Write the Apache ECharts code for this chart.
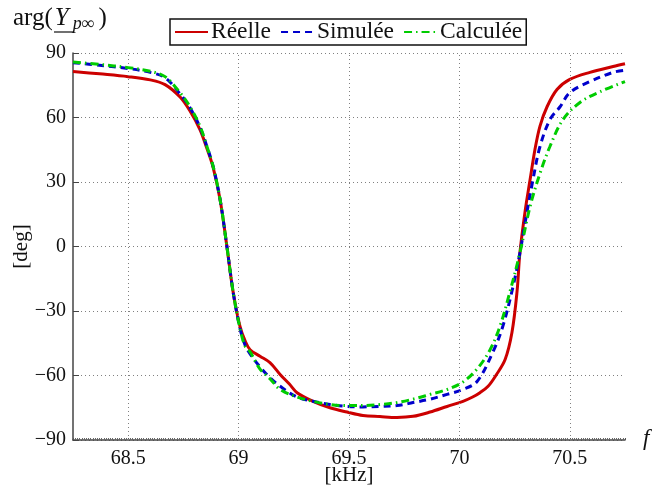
<!DOCTYPE html>
<html>
<head>
<meta charset="utf-8">
<script src="https://cdn.jsdelivr.net/npm/echarts@6/dist/echarts.min.js"></script>
<style>
html,body{margin:0;padding:0;background:#fff;}
#c{width:656px;height:493px;}
</style>
</head>
<body>
<div id="c"></div>
<script>
// ---- data ----
const seriesNames = ['Réelle', 'Simulée', 'Calculée'];
const xTickValues = [68.5, 69, 69.5, 70, 70.5];
const yTickValues = [-90, -60, -30, 0, 30, 60, 90];

const redF = [68.25,68.37,68.5,68.6,68.667,68.735,68.78,68.825,68.855,68.884,68.916,68.947,68.975,69.006,69.03,69.052,69.097,69.142,69.188,69.23,69.265,69.337,69.414,69.491,69.563,69.64,69.717,69.79,69.867,69.944,70.016,70.06,70.093,70.13,70.165,70.207,70.238,70.261,70.274,70.297,70.32,70.342,70.365,70.397,70.442,70.5,70.591,70.696,70.75];
const redDeg = [81.4,80.3,79,77.5,75.3,69.5,63,54.4,46,37,21.9,0,-21,-37,-44,-48,-51,-54,-59.5,-64,-68,-72,-75,-77,-78.6,-79.1,-79.5,-79,-77,-74.4,-72,-70,-68,-65,-60,-52.6,-40,-21,-3,16,31,45,56,65,73,77.7,81,83.7,85];

const blueF = [68.25,68.37,68.5,68.6,68.667,68.735,68.78,68.825,68.855,68.884,68.916,68.947,68.975,69.006,69.03,69.052,69.097,69.142,69.188,69.265,69.337,69.414,69.491,69.563,69.64,69.717,69.79,69.867,69.944,70.016,70.08,70.152,70.197,70.243,70.274,70.306,70.333,70.365,70.41,70.456,70.5,70.591,70.696,70.75];
const blueDeg = [85.5,84.3,82.8,81,78.5,71,64.5,55.5,47,37.5,22,0,-21,-38,-46,-50,-56,-61,-65,-70,-72,-73.5,-74.4,-74.6,-74.4,-74,-72.6,-71,-68.8,-66.5,-62.8,-49,-37,-18.6,-3,16,31,46.5,59,65,71.6,76.7,81,82];

const greenF = [68.25,68.37,68.5,68.6,68.667,68.735,68.78,68.825,68.855,68.884,68.916,68.947,68.975,69.006,69.03,69.052,69.097,69.142,69.188,69.265,69.337,69.414,69.491,69.563,69.64,69.717,69.79,69.867,69.944,70.016,70.08,70.139,70.184,70.229,70.274,70.32,70.365,70.41,70.469,70.546,70.637,70.75];
const greenDeg = [85.8,84.7,83.2,81.5,79,71.5,65,56,47,37.5,22,0,-21,-38,-46.5,-49,-57,-61.5,-66.5,-70,-72,-73.5,-74,-74,-73.5,-72.6,-71,-68.8,-66.5,-63,-57,-48,-37,-21,-3,18.6,34,46.5,59,67,72,76.7];

function pairs(xs, ys) { return xs.map((x, i) => [x, ys[i]]); }

const serif = '"Liberation Serif", "DejaVu Serif", serif';
const dotted = { color: '#808080', width: 1, type: [1, 3] };

const chart = echarts.init(document.getElementById('c'), null, { renderer: 'canvas' });
chart.setOption({
  animation: false,
  backgroundColor: '#fff',
  grid: { left: 73, right: 31, top: 53, bottom: 53, outerBoundsMode: 'none', containLabel: false },
  legend: {
    data: seriesNames,
    left: 170, top: 19,
    padding: [1, 4, 1, 4],
    itemGap: 9,
    itemWidth: 33, itemHeight: 14,
    borderColor: '#111', borderWidth: 1.5,
    backgroundColor: '#fff',
    itemStyle: { opacity: 0, borderWidth: 0, color: 'rgba(0,0,0,0)' },
    textStyle: { fontFamily: serif, fontSize: 23.5, color: '#111', padding: [0, 0, 0, -2], lineHeight: 21 }
  },
  xAxis: {
    type: 'value', min: 68.25, max: 70.75, interval: 0.25,
    name: '[kHz]', nameLocation: 'middle', nameGap: 25, nameMoveOverlap: false,
    nameTextStyle: { fontFamily: serif, fontSize: 21, color: '#111' },
    axisLine: { show: true, onZero: false, lineStyle: { color: '#444', width: 1.5 } },
    axisTick: { show: true, inside: true, length: 2, lineStyle: { color: '#555' } },
    minorTick: { show: true, splitNumber: 25, length: 2, lineStyle: { color: '#666' } },
    splitLine: { show: false },
    axisLabel: {
      fontFamily: serif, fontSize: 20, color: '#111', margin: 9,
      formatter: v => (xTickValues.some(t => Math.abs(t - v) < 1e-6) ? String(+v.toFixed(2)) : '')
    }
  },
  yAxis: {
    type: 'value', min: -90, max: 90, interval: 30,
    name: '[deg]', nameLocation: 'middle', nameGap: 41, nameRotate: 90, nameMoveOverlap: false,
    nameTextStyle: { fontFamily: serif, fontSize: 21, color: '#111' },
    axisLine: { show: true, onZero: false, lineStyle: { color: '#444', width: 1.5 } },
    axisTick: { show: true, inside: true, length: 6, lineStyle: { color: '#444' } },
    splitLine: { show: true, lineStyle: dotted },
    axisLabel: {
      fontFamily: serif, fontSize: 20, color: '#111', margin: 7,
      formatter: v => String(v).replace('-', '\u2212')
    }
  },
  series: [
    {
      name: 'grid-x', type: 'line', data: [], z: 1, silent: true,
      markLine: {
        silent: true, symbol: 'none', label: { show: false },
        lineStyle: dotted, animation: false,
        data: xTickValues.map(v => ({ xAxis: v }))
      }
    },
    {
      name: seriesNames[0], type: 'line', data: pairs(redF, redDeg), z: 3,
      showSymbol: false, symbol: 'none', smooth: 0.35,
      color: '#cc0000',
      lineStyle: { color: '#cc0000', width: 3, type: 'solid' }
    },
    {
      name: seriesNames[1], type: 'line', data: pairs(blueF, blueDeg), z: 4,
      showSymbol: false, symbol: 'none', smooth: 0.35,
      color: '#0000cc',
      lineStyle: { color: '#0000cc', width: 3, type: [7, 5] }
    },
    {
      name: seriesNames[2], type: 'line', data: pairs(greenF, greenDeg), z: 5,
      showSymbol: false, symbol: 'none', smooth: 0.35,
      color: '#00cc00',
      lineStyle: { color: '#00cc00', width: 3, type: [8, 4, 1.5, 4] }
    }
  ],
  graphic: [
    {
      type: 'text', left: 13, top: 6,
      style: {
        text: '{a|arg(}{y|Y}{s|p∞}{b|)}',
        rich: {
          a: { fontFamily: serif, fontSize: 25, fill: '#111' },
          b: { fontFamily: serif, fontSize: 25, fill: '#111', padding: [0, 0, 0, 2] },
          y: { fontFamily: serif, fontSize: 25, fontStyle: 'italic', fill: '#111', padding: [0, 3, 0, 2] },
          s: { fontFamily: serif, fontSize: 18, fontStyle: 'italic', fill: '#111', padding: [11, 2, 0, 1] }
        }
      }
    },
    {
      type: 'line', shape: { x1: 54, y1: 32, x2: 73, y2: 32 },
      style: { stroke: '#111', lineWidth: 1.2 }
    },
    {
      type: 'text', left: 643, top: 427,
      style: { text: 'f', fontFamily: serif, fontSize: 23, fontStyle: 'italic', fill: '#111' }
    }
  ]
});
</script>
</body>
</html>
